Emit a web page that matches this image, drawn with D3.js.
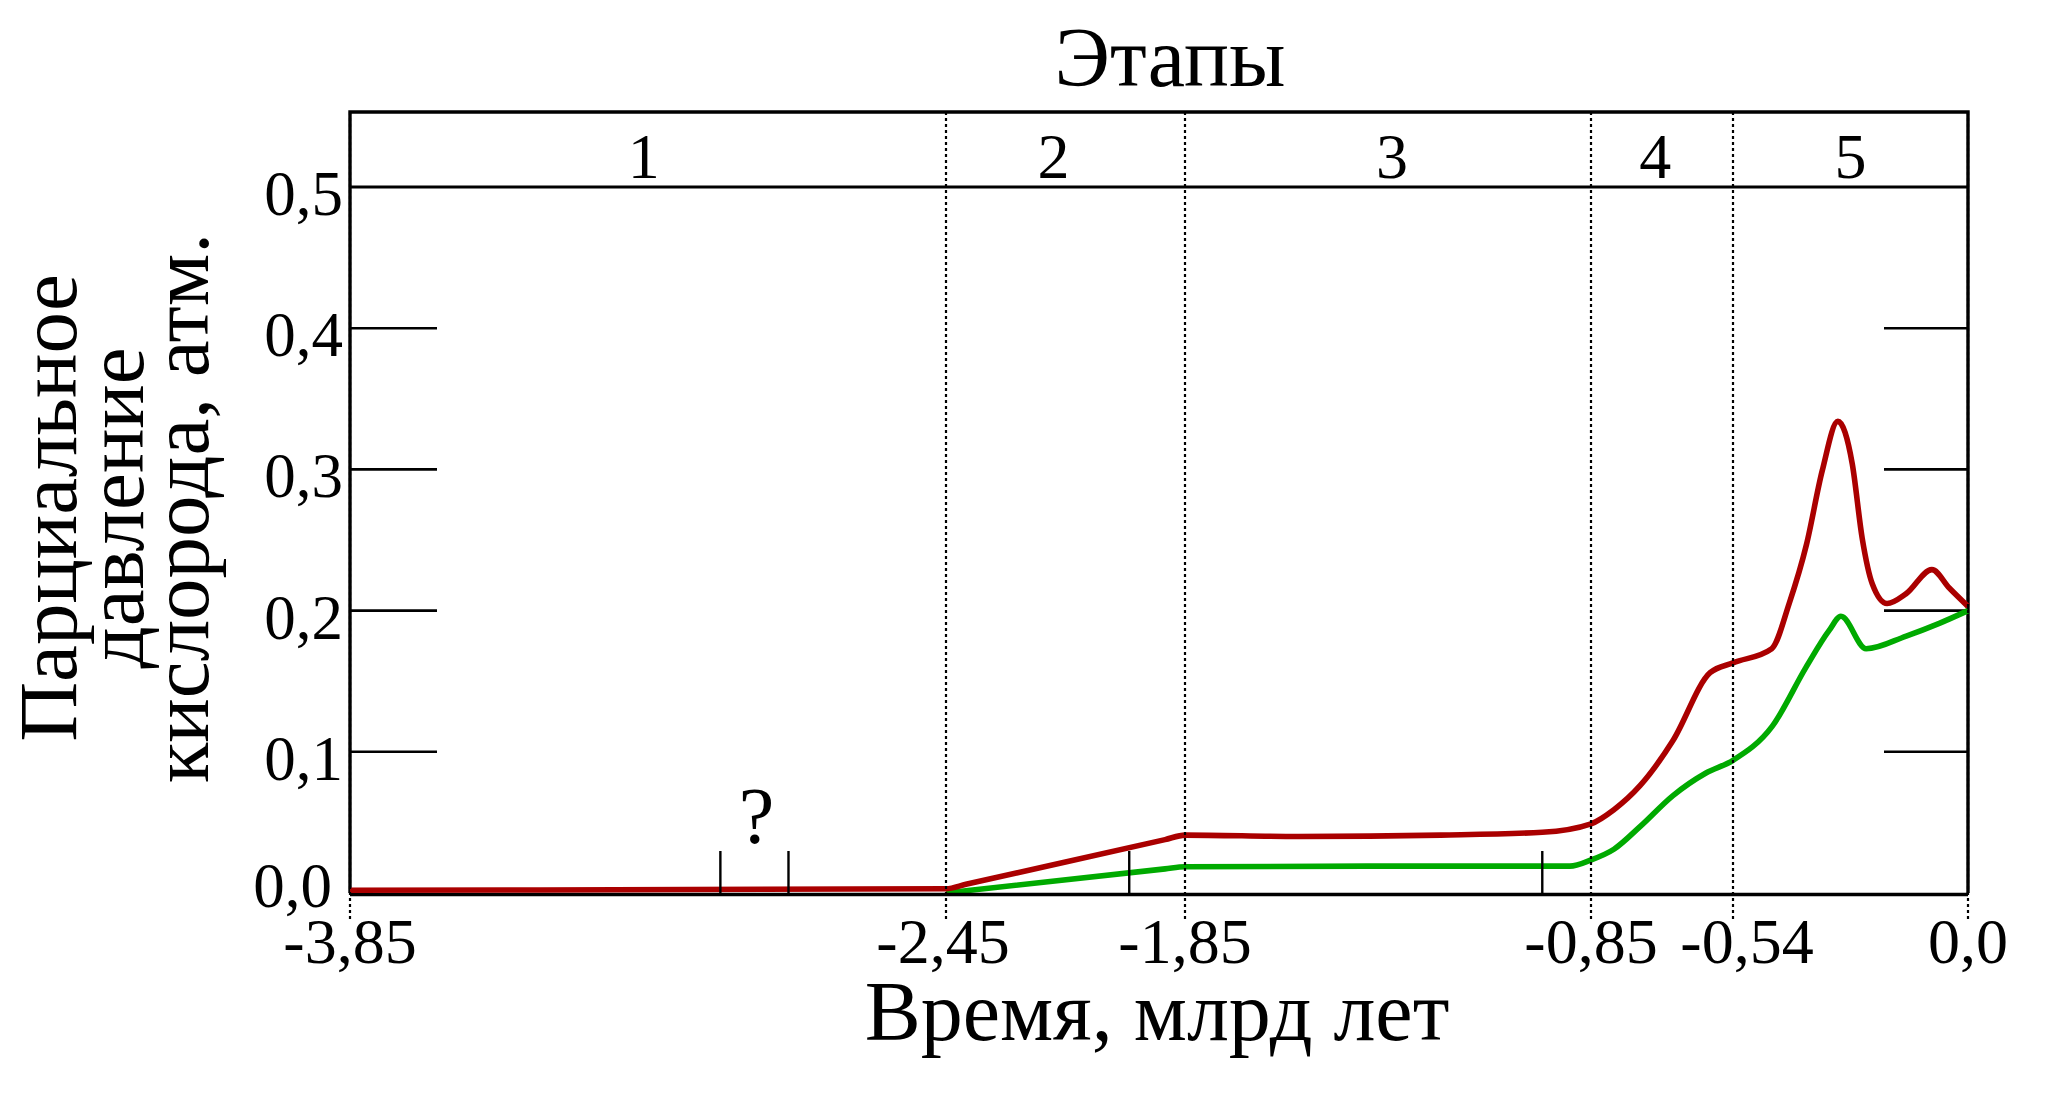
<!DOCTYPE html>
<html>
<head>
<meta charset="utf-8">
<script src="https://cdn.jsdelivr.net/npm/d3@7"></script>
<style>
  body { margin: 0; background: #fff; }
  text { font-family: 'Liberation Serif', 'DejaVu Serif', serif; fill: #000; }
</style>
</head>
<body>
<div id="chart"></div>
<script>
// stage boundaries (billion years ago) and labels
const stageBounds = [-3.85, -2.45, -1.85, -0.85, -0.54, 0];
const stageLabels = ['1', '2', '3', '4', '5'];
// where each stage number sits on the time axis
const stageLabelTimes = [-3.16, -2.18, -1.34, -0.71, -0.27];
const xTickLabels = ['-3,85', '-2,45', '-1,85', '-0,85', '-0,54', '0,0'];

const yTicks = [0, 0.1, 0.2, 0.3, 0.4, 0.5];
const yTickLabels = ['0,0', '0,1', '0,2', '0,3', '0,4', '0,5'];

// upper estimate (red)
const redTime = [-3.85, -2.45, -2.40, -1.90, -1.85, -1.57, -1.22, -0.97, -0.85, -0.80, -0.743, -0.671, -0.59, -0.54, -0.451, -0.411, -0.371, -0.335, -0.299, -0.266, -0.243, -0.220, -0.186, -0.142, -0.083, -0.043, 0];
const redO2 = [0.002, 0.003, 0.0062, 0.0378, 0.041, 0.040, 0.041, 0.043, 0.049, 0.059, 0.076, 0.108, 0.156, 0.163, 0.173, 0.205, 0.247, 0.299, 0.334, 0.304, 0.251, 0.219, 0.205, 0.212, 0.229, 0.216, 0.203];

// lower estimate (green)
const greenTime = [-2.45, -2.40, -1.90, -1.85, -1.40, -0.902, -0.85, -0.80, -0.743, -0.671, -0.599, -0.54, -0.450, -0.372, -0.319, -0.292, -0.234, -0.142, -0.066, 0];
const greenO2 = [0, 0.0016, 0.0171, 0.0186, 0.019, 0.019, 0.0234, 0.031, 0.047, 0.069, 0.085, 0.094, 0.118, 0.160, 0.186, 0.196, 0.173, 0.182, 0.191, 0.200];

// small vertical markers on the curves
const markerTimes = [-2.98, -2.82, -1.99, -0.97];

const width = 2048;
const height = 1103;

const svg = d3.select('#chart')
    .append('svg')
    .attr('width', width)
    .attr('height', height)
    .attr('viewBox', [0, 0, width, height]);

// the original axis is not evenly spaced, so map each stage boundary
const x = d3.scaleLinear()
    .domain(stageBounds)
    .range([350, 946, 1185, 1591, 1733, 1968]);

const y = d3.scaleLinear()
    .domain([0, 0.5])
    .range([893, 187]);

const frameTop = 112;

// frame
svg.append('path')
    .attr('d', `M${x(0)},${y(0)} L${x(0)},${frameTop} L${x(-3.85)},${frameTop} L${x(-3.85)},${y(0)}`)
    .attr('fill', 'none')
    .attr('stroke', '#000')
    .attr('stroke-width', 3.4);

// ticks on left / right side
const innerTicks = yTicks.filter(d => d > 0 && d < 0.5);
svg.append('g')
    .selectAll('line')
    .data(innerTicks)
    .enter()
    .append('line')
    .attr('x1', x(-3.85))
    .attr('x2', x(-3.85) + 87)
    .attr('y1', d => y(d))
    .attr('y2', d => y(d))
    .attr('stroke', '#000')
    .attr('stroke-width', 2.6);

svg.append('g')
    .selectAll('line')
    .data(innerTicks)
    .enter()
    .append('line')
    .attr('x1', x(0) - 84)
    .attr('x2', x(0))
    .attr('y1', d => y(d))
    .attr('y2', d => y(d))
    .attr('stroke', '#000')
    .attr('stroke-width', 2.6);

// 0,5 line separates the stage row
svg.append('line')
    .attr('x1', x(-3.85))
    .attr('x2', x(0))
    .attr('y1', y(0.5))
    .attr('y2', y(0.5))
    .attr('stroke', '#000')
    .attr('stroke-width', 2.9);

// y tick labels
svg.append('g')
    .selectAll('text')
    .data(yTicks)
    .enter()
    .append('text')
    .attr('x', d => d === 0 ? 332 : 343)
    .attr('y', d => y(d) + (d === 0 ? 14 : 28))
    .attr('text-anchor', 'end')
    .style('font-size', '63px')
    .text((d, i) => yTickLabels[i]);

// curves
const line = d3.line()
    .x(d => x(d[0]))
    .y(d => y(d[1]))
    .curve(d3.curveMonotoneX);

svg.append('path')
    .datum(greenTime.map((t, i) => [t, greenO2[i]]))
    .attr('d', line)
    .attr('fill', 'none')
    .attr('stroke', '#00aa00')
    .attr('stroke-width', 5.6)
    .attr('stroke-linejoin', 'round');

// zero axis
svg.append('line')
    .attr('x1', x(-3.85))
    .attr('x2', x(0))
    .attr('y1', y(0) + 1.5)
    .attr('y2', y(0) + 1.5)
    .attr('stroke', '#000')
    .attr('stroke-width', 3.4);

svg.append('path')
    .datum(redTime.map((t, i) => [t, redO2[i]]))
    .attr('d', line)
    .attr('fill', 'none')
    .attr('stroke', '#aa0000')
    .attr('stroke-width', 5.6)
    .attr('stroke-linejoin', 'round');

// markers
svg.append('g')
    .selectAll('line')
    .data(markerTimes)
    .enter()
    .append('line')
    .attr('x1', d => x(d))
    .attr('x2', d => x(d))
    .attr('y1', y(0))
    .attr('y2', y(0) - 42)
    .attr('stroke', '#000')
    .attr('stroke-width', 2.4);

svg.append('text')
    .attr('x', (x(markerTimes[0]) + x(markerTimes[1])) / 2 + 2)
    .attr('y', 843)
    .attr('text-anchor', 'middle')
    .style('font-size', '80px')
    .text('?');

// dotted stage boundaries
svg.append('g')
    .selectAll('line')
    .data(stageBounds)
    .enter()
    .append('line')
    .attr('x1', d => x(d))
    .attr('x2', d => x(d))
    .attr('y1', frameTop)
    .attr('y2', 922)
    .attr('stroke', '#000')
    .attr('stroke-width', 2.2)
    .attr('stroke-dasharray', '3,3');

// x tick labels (-0,54 sits a bit right of its line in the original)
svg.append('g')
    .selectAll('text')
    .data(stageBounds)
    .enter()
    .append('text')
    .attr('x', d => x(d))
    .attr('dx', d => d === -0.54 ? 14 : (d === -2.45 ? -3 : 0))
    .attr('y', 963)
    .attr('text-anchor', 'middle')
    .style('font-size', '64px')
    .text((d, i) => xTickLabels[i]);

// stage numbers
svg.append('g')
    .selectAll('text')
    .data(stageLabels)
    .enter()
    .append('text')
    .attr('x', (d, i) => x(stageLabelTimes[i]))
    .attr('y', 178)
    .attr('text-anchor', 'middle')
    .style('font-size', '64px')
    .text(d => d);

// titles
svg.append('text')
    .attr('x', 1170)
    .attr('y', 86)
    .attr('text-anchor', 'middle')
    .style('font-size', '84px')
    .text('Этапы');

svg.append('text')
    .attr('x', 1157)
    .attr('y', 1040)
    .attr('text-anchor', 'middle')
    .style('font-size', '84px')
    .text('Время, млрд лет');

const yLabel = svg.append('text')
    .attr('transform', 'translate(0,508) rotate(-90)')
    .attr('text-anchor', 'middle')
    .style('font-size', '83px');

['Парциальное', 'давление', 'кислорода, атм.'].forEach((s, i) => {
    yLabel.append('tspan')
        .attr('x', 0)
        .attr('y', [76, 143, 208][i])
        .text(s);
});
</script>
</body>
</html>
